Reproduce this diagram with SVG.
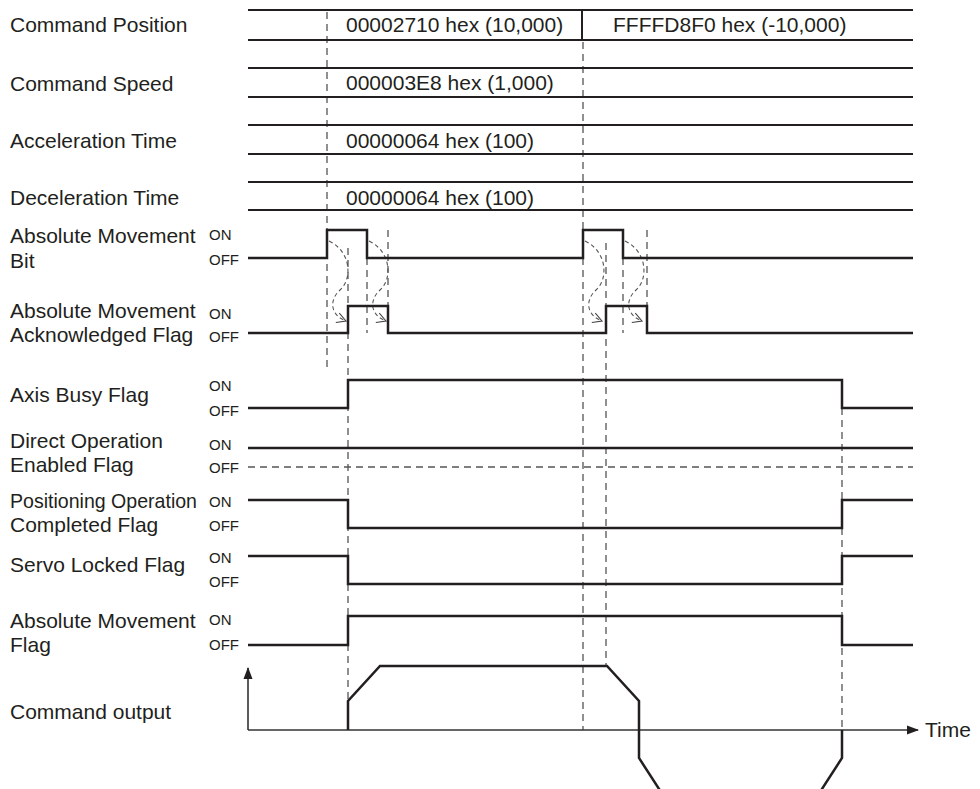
<svg xmlns="http://www.w3.org/2000/svg" width="980" height="789" viewBox="0 0 980 789">
<defs>
<style>
text{font-family:"Liberation Sans",Arial,sans-serif;fill:#231f20}
.lb{font-size:21px}
.st{font-size:15px}
.val{font-size:21px}
.grid{stroke:#231f20;stroke-width:2;fill:none}
.sig{stroke:#231f20;stroke-width:2.5;fill:none;stroke-linejoin:miter}
.dash{stroke:#555;stroke-width:1.3;stroke-dasharray:7 5;fill:none}
.curve{stroke:#555;stroke-width:1.1;stroke-dasharray:4 3;fill:none}
.axis{stroke:#333;stroke-width:1.6;fill:none}
</style>
<marker id="open" markerWidth="12" markerHeight="12" refX="10" refY="6" orient="auto" markerUnits="userSpaceOnUse">
<path d="M1,1 L10,6 L1,11" fill="none" stroke="#444" stroke-width="1.1"/>
</marker>
<marker id="solid" markerWidth="12" markerHeight="10" refX="11" refY="5" orient="auto" markerUnits="userSpaceOnUse">
<path d="M0,0.5 L12,5 L0,9.5 Z" fill="#231f20"/>
</marker>
</defs>
<rect width="980" height="789" fill="#fff"/>

<g id="connectors">
<line class="dash" x1="327" y1="12" x2="327" y2="367"/>
<line class="dash" x1="348" y1="248" x2="348" y2="730"/>
<line class="dash" x1="367" y1="258" x2="367" y2="333"/>
<line class="dash" x1="388" y1="230" x2="388" y2="306"/>
<line class="dash" x1="583" y1="42" x2="583" y2="730"/>
<line class="dash" x1="606" y1="243" x2="606" y2="666"/>
<line class="dash" x1="623" y1="258" x2="623" y2="333"/>
<line class="dash" x1="647" y1="230" x2="647" y2="306"/>
<line class="dash" x1="842" y1="408" x2="842" y2="730"/>
<path class="curve" marker-end="url(#open)" d="M329,241 C352,252 352,280 340,290 C329,300 330,315 346,321"/>
<path class="curve" marker-end="url(#open)" d="M369,241 C392,252 392,280 380,290 C369,300 370,315 386,321"/>
<path class="curve" marker-end="url(#open)" d="M585,241 C608,252 608,280 596,290 C585,300 586,315 602,321"/>
<path class="curve" marker-end="url(#open)" d="M625,241 C648,252 648,280 636,290 C625,300 626,315 642,321"/>
</g>

<g id="command-position">
<text class="lb" x="10" y="32">Command Position</text>
<line class="grid" x1="248" y1="10" x2="913" y2="10"/>
<line class="grid" x1="248" y1="40" x2="913" y2="40"/>
<line class="grid" x1="582" y1="10" x2="582" y2="40"/>
<text class="val" x="346" y="32">00002710 hex (10,000)</text>
<text class="val" x="613" y="32">FFFFD8F0 hex (-10,000)</text>
</g>
<g id="command-speed">
<text class="lb" x="10" y="91">Command Speed</text>
<line class="grid" x1="248" y1="68" x2="913" y2="68"/>
<line class="grid" x1="248" y1="97" x2="913" y2="97"/>
<text class="val" x="346" y="90">000003E8 hex (1,000)</text>
</g>
<g id="acceleration-time">
<text class="lb" x="10" y="148">Acceleration Time</text>
<line class="grid" x1="248" y1="125" x2="913" y2="125"/>
<line class="grid" x1="248" y1="154" x2="913" y2="154"/>
<text class="val" x="346" y="148">00000064 hex (100)</text>
</g>
<g id="deceleration-time">
<text class="lb" x="10" y="205">Deceleration Time</text>
<line class="grid" x1="248" y1="182" x2="913" y2="182"/>
<line class="grid" x1="248" y1="210" x2="913" y2="210"/>
<text class="val" x="346" y="205">00000064 hex (100)</text>
</g>

<g id="absolute-movement-bit">
<text class="lb" x="10" y="243">Absolute Movement</text>
<text class="lb" x="10" y="268">Bit</text>
<text class="st" x="209" y="240">ON</text>
<text class="st" x="209" y="265">OFF</text>
<polyline class="sig" points="248,258 327,258 327,230 367,230 367,258 583,258 583,230 623,230 623,258 913,258"/>
</g>
<g id="absolute-movement-ack">
<text class="lb" x="10" y="318">Absolute Movement</text>
<text class="lb" x="10" y="342">Acknowledged Flag</text>
<text class="st" x="209" y="319">ON</text>
<text class="st" x="209" y="342">OFF</text>
<polyline class="sig" points="248,333 348,333 348,306 388,306 388,333 606,333 606,306 647,306 647,333 913,333"/>
</g>
<g id="axis-busy">
<text class="lb" x="10" y="402">Axis Busy Flag</text>
<text class="st" x="209" y="391">ON</text>
<text class="st" x="209" y="416">OFF</text>
<polyline class="sig" points="248,408 348,408 348,380 842,380 842,408 913,408"/>
</g>
<g id="direct-operation-enabled">
<text class="lb" x="10" y="448">Direct Operation</text>
<text class="lb" x="10" y="472">Enabled Flag</text>
<text class="st" x="209" y="450">ON</text>
<text class="st" x="209" y="473">OFF</text>
<line class="sig" x1="248" y1="448" x2="913" y2="448"/>
<line class="dash" x1="248" y1="467" x2="913" y2="467"/>
</g>
<g id="positioning-completed">
<text class="lb" x="10" y="508" textLength="187" lengthAdjust="spacingAndGlyphs">Positioning Operation</text>
<text class="lb" x="10" y="532">Completed Flag</text>
<text class="st" x="209" y="507">ON</text>
<text class="st" x="209" y="531">OFF</text>
<polyline class="sig" points="248,500 348,500 348,528 842,528 842,500 913,500"/>
</g>
<g id="servo-locked">
<text class="lb" x="10" y="572">Servo Locked Flag</text>
<text class="st" x="209" y="563">ON</text>
<text class="st" x="209" y="587">OFF</text>
<polyline class="sig" points="248,556 348,556 348,584 842,584 842,556 913,556"/>
</g>
<g id="absolute-movement-flag">
<text class="lb" x="10" y="628">Absolute Movement</text>
<text class="lb" x="10" y="652">Flag</text>
<text class="st" x="209" y="625">ON</text>
<text class="st" x="209" y="650">OFF</text>
<polyline class="sig" points="248,645 348,645 348,616 842,616 842,645 913,645"/>
</g>
<g id="command-output">
<text class="lb" x="10" y="719">Command output</text>
<line class="axis" x1="248" y1="730" x2="248" y2="668" marker-end="url(#solid)"/>
<line class="axis" x1="248" y1="730" x2="918" y2="730" marker-end="url(#solid)"/>
<text class="lb" x="925" y="737">Time</text>
<polyline class="sig" points="348,730 348,701 380,666 607,666 639,701 639,758 661,792"/>
<polyline class="sig" points="842,730 842,758 820,792"/>
</g>
</svg>
